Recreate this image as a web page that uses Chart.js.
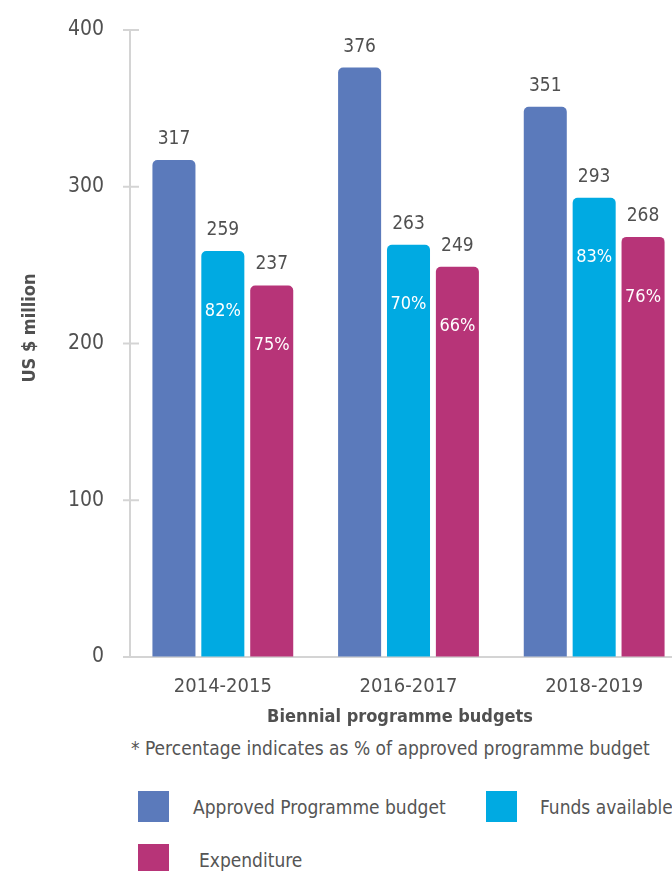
<!DOCTYPE html>
<html>
<head>
<meta charset="UTF-8">
<title>Biennial programme budgets</title>
<style type="text/css">
  body { margin: 0; overflow: hidden; background: #fff; font-family: "Liberation Sans Narrow", "DejaVu Sans Condensed", Roboto, sans-serif; color: #555; }
  #chart-container { position: absolute; left: 0; top: 0; width: 687px; height: 735px; }
  .note { position: absolute; left: 131px; top: 736px; font-size: 19px; line-height: 24px; white-space: nowrap; }
  .swatch { position: absolute; width: 31px; height: 31px; }
  .lbl { position: absolute; font-size: 19px; line-height: 24px; white-space: nowrap; }
</style>
<script type="text/javascript" src="https://cdn.jsdelivr.net/npm/chart.js@4.4.1/dist/chart.umd.min.js"></script>
</head>
<body>

<div id="chart-container">
  <canvas id="mycanvas"></canvas>
</div>
<div class="note">* Percentage indicates as % of approved programme budget</div>
<div id="legend"></div>

<script>
// data
var periods = ['2014-2015', '2016-2017', '2018-2019'];
var approved = [317, 376, 351];
var funds = [259, 263, 293];
var expenditure = [237, 249, 268];
var fundsPct = [82, 70, 83];
var expenditurePct = [75, 66, 76];
var yTicks = [0, 100, 200, 300, 400];

var seriesNames = ['Approved Programme budget', 'Funds available', 'Expenditure'];
var seriesColors = ['#5b7abb', '#00aae2', '#b73478'];

var FONT = '"Liberation Sans Narrow", "DejaVu Sans Condensed", Roboto, sans-serif';
var GREY = '#505050';
var AXIS = '#d4d4d4';

// labels on and above the bars
var barLabels = {
  id: 'barLabels',
  afterDatasetsDraw: function(chart) {
    var ctx = chart.ctx;
    var pcts = [null, fundsPct, expenditurePct];
    ctx.save();
    ctx.textAlign = 'center';
    ctx.textBaseline = 'middle';
    chart.data.datasets.forEach(function(ds, i) {
      var meta = chart.getDatasetMeta(i);
      meta.data.forEach(function(bar, j) {
        ctx.fillStyle = GREY;
        ctx.font = '19px ' + FONT;
        ctx.fillText(ds.data[j], bar.x, bar.y - 21);
        if (pcts[i]) {
          ctx.fillStyle = '#ffffff';
          ctx.font = '18px ' + FONT;
          ctx.fillText(pcts[i][j] + '%', bar.x, bar.y + 60);
        }
      });
    });
    ctx.restore();
  }
};

// short tick marks crossing the y axis, and both axis titles
var axisExtras = {
  id: 'axisExtras',
  afterDraw: function(chart) {
    var ctx = chart.ctx;
    var y = chart.scales.y;
    var left = chart.chartArea.left;
    ctx.save();
    ctx.strokeStyle = AXIS;
    ctx.lineWidth = 2;
    yTicks.forEach(function(v) {
      var py = y.getPixelForValue(v);
      ctx.beginPath();
      ctx.moveTo(left - 7, py);
      ctx.lineTo(left + 9, py);
      ctx.stroke();
    });
    ctx.fillStyle = GREY;
    ctx.font = 'bold 18px ' + FONT;
    ctx.textAlign = 'center';
    ctx.textBaseline = 'middle';
    ctx.fillText('Biennial programme budgets', 400, 717);
    ctx.translate(30, 328);
    ctx.rotate(-Math.PI / 2);
    ctx.fillText('US $ million', 0, 0);
    ctx.restore();
  }
};

var chartdata = {
  labels: periods,
  datasets: [
    { label: seriesNames[0], data: approved, backgroundColor: seriesColors[0] },
    { label: seriesNames[1], data: funds, backgroundColor: seriesColors[1] },
    { label: seriesNames[2], data: expenditure, backgroundColor: seriesColors[2] }
  ]
};
chartdata.datasets.forEach(function(ds) {
  ds.borderRadius = { topLeft: 5, topRight: 5 };
  ds.borderSkipped = 'bottom';
  ds.barPercentage = 0.88;
  ds.categoryPercentage = 0.79;
});

var ctx = document.getElementById('mycanvas');
var barGraph = new Chart(ctx, {
  type: 'bar',
  data: chartdata,
  plugins: [barLabels, axisExtras],
  options: {
    responsive: true,
    maintainAspectRatio: false,
    animation: false,
    layout: { padding: { top: 30, left: 0, right: 0, bottom: 0 } },
    plugins: { legend: { display: false }, tooltip: { enabled: false } },
    scales: {
      x: {
        grid: { display: false },
        border: { display: true, color: AXIS, width: 2 },
        ticks: { color: GREY, font: { family: FONT, size: 20 }, padding: 10 },
        afterFit: function(s) { s.height = 78; }
      },
      y: {
        min: 0, max: 400,
        grid: { display: true, drawOnChartArea: false, drawTicks: true, tickLength: 14, tickColor: 'rgba(0,0,0,0)' },
        border: { display: true, color: AXIS, width: 2 },
        ticks: { stepSize: 100, color: GREY, font: { family: FONT, size: 21 }, padding: 12 },
        afterFit: function(s) { s.width = 130; }
      }
    }
  }
});

// legend built from the same series names and colours
var legendPos = [[138, 791, 193], [486, 791, 540], [138, 844, 199]];
var legend = document.getElementById('legend');
seriesNames.forEach(function(name, i) {
  var p = legendPos[i];
  var sw = document.createElement('div');
  sw.className = 'swatch';
  sw.style.left = p[0] + 'px';
  sw.style.top = p[1] + 'px';
  sw.style.background = seriesColors[i];
  legend.appendChild(sw);
  var tx = document.createElement('div');
  tx.className = 'lbl';
  tx.style.left = p[2] + 'px';
  tx.style.top = (p[1] + 4) + 'px';
  tx.textContent = name;
  legend.appendChild(tx);
});
</script>

</body>
</html>
